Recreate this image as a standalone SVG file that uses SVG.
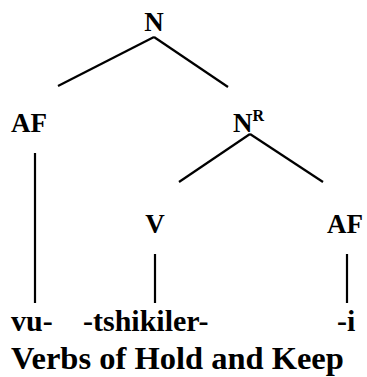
<svg xmlns="http://www.w3.org/2000/svg" width="367" height="377" viewBox="0 0 367 377">
<style>
text{font-family:"Liberation Serif","Times New Roman",serif;font-weight:bold;font-size:27px;fill:#000}
.sup{font-size:16px}
.w{font-size:30px}
.cap{font-size:32.5px}
line{stroke:#000;stroke-width:2.2}
</style>
<rect width="367" height="377" fill="#fff"/>
<g id="connectors">
<line x1="154" y1="37" x2="58" y2="86"/>
<line x1="154" y1="37" x2="228" y2="87"/>
<line x1="250" y1="134" x2="179" y2="182"/>
<line x1="250" y1="134" x2="323" y2="182"/>
<line x1="35" y1="153" x2="35" y2="303"/>
<line x1="155" y1="254" x2="155" y2="303"/>
<line x1="347" y1="254" x2="347" y2="303"/>
</g>
<g id="n-root"><text x="154" y="31" text-anchor="middle">N</text></g>
<g id="af-left"><text x="11" y="132">AF</text></g>
<g id="n-r"><text x="233" y="132">N<tspan class="sup" dy="-11">R</tspan></text></g>
<g id="v"><text x="155" y="233" text-anchor="middle">V</text></g>
<g id="af-right"><text x="327" y="233">AF</text></g>
<g id="vu"><text class="w" x="11" y="331">vu-</text></g>
<g id="tshikiler"><text class="w" x="83" y="331">-tshikiler-</text></g>
<g id="i"><text class="w" x="337" y="331">-i</text></g>
<g id="caption"><text class="cap" x="11" y="369">Verbs of Hold and Keep</text></g>
</svg>
